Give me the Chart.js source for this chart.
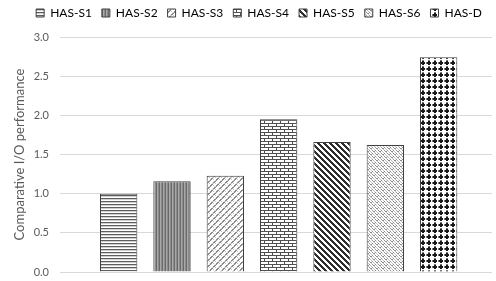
<!DOCTYPE html>
<html>
<head>
<meta charset="utf-8">
<script src="https://cdn.jsdelivr.net/npm/chart.js@4"></script>
<style>
    html, body { margin: 0; padding: 0; background: #fff; }
    #wrap { width: 496px; height: 281px; }
</style>
</head>
<body>
<div id="wrap"><canvas id="perfChart"></canvas></div>
<script>
const seriesNames = ['HAS-S1', 'HAS-S2', 'HAS-S3', 'HAS-S4', 'HAS-S5', 'HAS-S6', 'HAS-D'];
const ioPerformance = [1.0, 1.16, 1.23, 1.95, 1.66, 1.62, 2.74];
const yTicks = [0, 0.5, 1.0, 1.5, 2.0, 2.5, 3.0];

// small pixel tiles for the Excel-like fill patterns
function makePattern(w, h, draw) {
    const c = document.createElement('canvas');
    c.width = w;
    c.height = h;
    const g = c.getContext('2d');
    g.fillStyle = '#fff';
    g.fillRect(0, 0, w, h);
    draw(g);
    return document.createElement('canvas').getContext('2d').createPattern(c, 'repeat');
}

function px(g, color, cells) {
    g.fillStyle = color;
    cells.forEach(([x, y]) => g.fillRect(x, y, 1, 1));
}

const patterns = [
    // horizontal lines
    makePattern(1, 3, g => {
        g.fillStyle = '#5e5e5e'; g.fillRect(0, 0, 1, 1);
        g.fillStyle = '#d0d0d0'; g.fillRect(0, 1, 1, 1);
    }),
    // dense vertical lines
    makePattern(3, 1, g => {
        g.fillStyle = '#6a6a6a'; g.fillRect(0, 0, 1, 1);
        g.fillStyle = '#a8a8a8'; g.fillRect(1, 0, 1, 1);
        g.fillStyle = '#8c8c8c'; g.fillRect(2, 0, 1, 1);
    }),
    // stepped upward diagonal
    makePattern(6, 6, g => {
        px(g, '#8a8a8a', [[0, 5], [1, 5], [1, 4], [2, 4], [3, 2], [4, 2], [4, 1], [5, 1], [0, 0]]);
        px(g, '#c4c4c4', [[2, 3], [3, 3], [5, 0], [3, 5], [5, 3]]);
    }),
    // horizontal brick
    makePattern(8, 6, g => {
        g.fillStyle = '#505050';
        g.fillRect(0, 0, 8, 1);
        g.fillRect(0, 3, 8, 1);
        g.fillRect(0, 0, 1, 3);
        g.fillRect(4, 3, 1, 3);
    }),
    // wide downward diagonal
    makePattern(6, 6, g => {
        const cells = [];
        for (let y = 0; y < 6; y++) {
            for (let k = 0; k < 3; k++) cells.push([(y + k) % 6, y]);
        }
        px(g, '#2e2e2e', cells);
    }),
    // light wave / shingle
    makePattern(6, 6, g => {
        px(g, '#8e8e8e', [[0, 0], [1, 1], [2, 1], [3, 0], [3, 3], [4, 4], [5, 4], [0, 3]]);
        px(g, '#c2c2c2', [[2, 2], [5, 5], [1, 4], [4, 1], [5, 2], [2, 5]]);
    }),
    // dark diamonds
    makePattern(6, 6, g => {
        g.fillStyle = '#1a1a1a';
        g.fillRect(1, 1, 4, 4);
        g.fillStyle = '#fff';
        g.fillRect(1, 1, 1, 1);
        g.fillRect(4, 1, 1, 1);
        g.fillRect(1, 4, 1, 1);
        g.fillRect(4, 4, 1, 1);
        g.fillStyle = '#7a7a7a';
        g.fillRect(2, 0, 2, 1);
        g.fillRect(0, 2, 1, 2);
    })
];

// extra room under the legend row and a small nudge to the right
const legendTweak = {
    id: 'legendTweak',
    beforeInit(chart) {
        const fit = chart.legend.fit;
        chart.legend.fit = function () {
            fit.call(this);
            this.height += 8;
        };
    },
    afterLayout(chart) {
        chart.legend.left += 7;
        chart.legend.right += 7;
    }
};

const ctx = document.getElementById('perfChart').getContext('2d');
new Chart(ctx, {
    type: 'bar',
    data: {
        datasets: [{
            label: 'Comparative I/O performance',
            data: ioPerformance.map((v, i) => ({ x: i + 1, y: v })),
            backgroundColor: patterns,
            borderColor: '#404040',
            borderWidth: 1,
            barPercentage: 0.7,
            categoryPercentage: 1.0
        }]
    },
    options: {
        responsive: true,
        maintainAspectRatio: false,
        animation: false,
        layout: {
            padding: { left: 12, right: 4, top: -3, bottom: 9 }
        },
        plugins: {
            legend: {
                display: true,
                position: 'top',
                labels: {
                    color: '#595959',
                    font: { family: 'Lato', size: 12 },
                    boxWidth: 8,
                    boxHeight: 8,
                    padding: 10,
                    generateLabels: () => seriesNames.map((name, i) => ({
                        text: name,
                        fillStyle: patterns[i],
                        strokeStyle: '#404040',
                        lineWidth: 1,
                        hidden: false,
                        index: i
                    }))
                },
                onClick: () => {}
            },
            tooltip: { enabled: false }
        },
        scales: {
            x: {
                type: 'linear',
                display: false,
                offset: false,
                min: -0.1,
                max: 8
            },
            y: {
                min: 0,
                max: 3,
                afterBuildTicks: axis => {
                    axis.ticks = yTicks.map(v => ({ value: v }));
                },
                afterFit: axis => {
                    axis.width = 48;
                    axis.paddingTop = 0;
                    axis.paddingBottom = 0;
                },
                border: { display: false },
                grid: {
                    color: '#d9d9d9',
                    drawTicks: false
                },
                ticks: {
                    color: '#595959',
                    font: { family: 'Lato', size: 11 },
                    padding: 11,
                    callback: v => v.toFixed(1)
                },
                title: {
                    display: true,
                    text: 'Comparative I/O performance',
                    color: '#595959',
                    font: { family: 'Lato', size: 13 },
                    padding: 0
                }
            }
        }
    },
    plugins: [legendTweak]
});
</script>
</body>
</html>
